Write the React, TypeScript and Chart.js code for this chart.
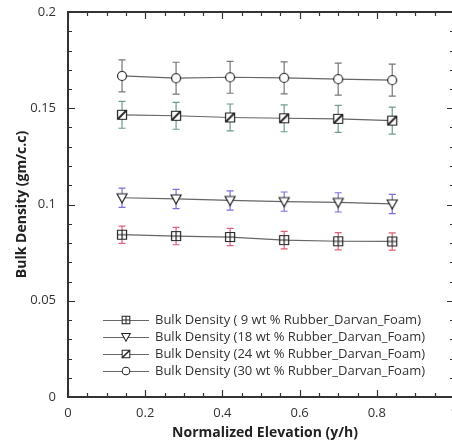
import React, { useEffect, useRef } from "react";
import { Chart, registerables } from "chart.js";

Chart.register(...registerables);

// Normalized elevation positions of the samples
const elevations = [0.14, 0.28, 0.42, 0.56, 0.7, 0.84];

// Bulk density (gm/c.c) per foam composition
const density9 = [0.0843, 0.0836, 0.0831, 0.0815, 0.0809, 0.0808];
const density18 = [0.1035, 0.1029, 0.1021, 0.1015, 0.1011, 0.1003];
const density24 = [0.1466, 0.1461, 0.1452, 0.1448, 0.1445, 0.1436];
const density30 = [0.1668, 0.1656, 0.1661, 0.1658, 0.1651, 0.1646];

// Symmetric error (± gm/c.c) for each composition
const error9 = [0.0045, 0.0045, 0.0045, 0.0045, 0.0045, 0.0045];
const error18 = [0.005, 0.005, 0.005, 0.005, 0.005, 0.005];
const error24 = [0.007, 0.007, 0.007, 0.007, 0.007, 0.007];
const error30 = [0.0083, 0.0083, 0.0083, 0.0083, 0.0083, 0.0083];

const seriesLabels = [
  "Bulk Density ( 9 wt % Rubber_Darvan_Foam)",
  "Bulk Density (18 wt % Rubber_Darvan_Foam)",
  "Bulk Density (24 wt % Rubber_Darvan_Foam)",
  "Bulk Density (30 wt % Rubber_Darvan_Foam)",
];

const xTicks = [0, 0.2, 0.4, 0.6, 0.8, 1];
const yTicks = [0, 0.05, 0.1, 0.15, 0.2];

const FONT = "'Open Sans', 'DejaVu Sans', sans-serif";
const INK = "#333";

type MarkerKind = "plusSquare" | "downTriangle" | "slashSquare" | "circle";

function makeMarker(kind: MarkerKind, scale = 1): HTMLCanvasElement {
  const size = 14;
  const c = document.createElement("canvas");
  c.width = size;
  c.height = size;
  const g = c.getContext("2d")!;
  const m = size / 2;
  g.translate(m, m);
  g.scale(scale, scale);
  g.strokeStyle = "#222";
  g.fillStyle = "#fff";
  g.lineWidth = 1.2;
  if (kind === "plusSquare" || kind === "slashSquare") {
    const h = 4.5;
    g.beginPath();
    g.rect(-h, -h, 2 * h, 2 * h);
    g.fill();
    g.stroke();
    g.beginPath();
    if (kind === "plusSquare") {
      g.moveTo(0, -h);
      g.lineTo(0, h);
      g.moveTo(-h, 0);
      g.lineTo(h, 0);
    } else {
      g.lineWidth = 1.8;
      g.moveTo(-h, h);
      g.lineTo(h, -h);
    }
    g.stroke();
  } else if (kind === "downTriangle") {
    g.beginPath();
    g.moveTo(-5, -4);
    g.lineTo(5, -4);
    g.lineTo(0, 5);
    g.closePath();
    g.fill();
    g.stroke();
  } else {
    g.beginPath();
    g.arc(0, 0, 4.5, 0, Math.PI * 2);
    g.fill();
    g.stroke();
  }
  return c;
}

export default function App() {
  const canvasRef = useRef<HTMLCanvasElement | null>(null);

  useEffect(() => {
    document.body.style.margin = "0";
    const canvas = canvasRef.current;
    if (!canvas) return;

    const kinds: MarkerKind[] = ["plusSquare", "downTriangle", "slashSquare", "circle"];
    const markers = kinds.map((k) => makeMarker(k));
    const legendMarkers = kinds.map((k) => makeMarker(k, 0.85));
    const values = [density9, density18, density24, density30];
    const errors = [error9, error18, error24, error30];
    const errorColors = ["#e0607a", "#7a72d6", "#6f9a8c", "#777"];

    const datasets = values.map((vals, i) => ({
      label: seriesLabels[i],
      data: elevations.map((x, j) => ({ x, y: vals[j] })),
      showLine: true,
      borderColor: "#666",
      borderWidth: 1.2,
      pointStyle: markers[i] as any,
      pointRadius: 5,
      backgroundColor: "#fff",
    }));

    const errorBars = {
      id: "errorBars",
      beforeDatasetsDraw(chart: any) {
        const { ctx, scales } = chart;
        const xs = scales.x;
        const ys = scales.y;
        ctx.save();
        ctx.lineWidth = 1.2;
        values.forEach((vals, i) => {
          ctx.strokeStyle = errorColors[i];
          vals.forEach((v, j) => {
            const px = xs.getPixelForValue(elevations[j]);
            const top = ys.getPixelForValue(v + errors[i][j]);
            const bot = ys.getPixelForValue(v - errors[i][j]);
            ctx.beginPath();
            ctx.moveTo(px, top);
            ctx.lineTo(px, bot);
            ctx.moveTo(px - 3.5, top);
            ctx.lineTo(px + 3.5, top);
            ctx.moveTo(px - 3.5, bot);
            ctx.lineTo(px + 3.5, bot);
            ctx.stroke();
          });
        });
        ctx.restore();
      },
    };

    const frame = {
      id: "frame",
      afterDraw(chart: any) {
        const { ctx, chartArea: a, scales } = chart;
        const xs = scales.x;
        const ys = scales.y;
        ctx.save();
        ctx.strokeStyle = INK;
        ctx.lineWidth = 1.2;
        // inward ticks, minor every 0.05 on x and 0.01 on y
        ctx.beginPath();
        for (let k = 0; k <= 20; k++) {
          const v = k * 0.05;
          const px = Math.round(xs.getPixelForValue(v)) + 0.5;
          const len = k % 4 === 0 ? 7 : 4;
          ctx.moveTo(px, a.bottom);
          ctx.lineTo(px, a.bottom - len);
          ctx.moveTo(px, a.top);
          ctx.lineTo(px, a.top + len);
        }
        for (let k = 0; k <= 20; k++) {
          const v = k * 0.01;
          const py = Math.round(ys.getPixelForValue(v)) + 0.5;
          const len = k % 5 === 0 ? 7 : 4;
          ctx.moveTo(a.left, py);
          ctx.lineTo(a.left + len, py);
          ctx.moveTo(a.right, py);
          ctx.lineTo(a.right - len, py);
        }
        ctx.stroke();
        ctx.lineWidth = 2;
        ctx.strokeRect(a.left, a.top, a.right - a.left, a.bottom - a.top);

        // tick labels
        ctx.fillStyle = INK;
        ctx.font = `13px ${FONT}`;
        ctx.textAlign = "center";
        ctx.textBaseline = "middle";
        xTicks.forEach((v) => {
          ctx.fillText(String(v), xs.getPixelForValue(v), a.bottom + 16);
        });
        ctx.textAlign = "right";
        yTicks.forEach((v) => {
          ctx.fillText(String(v), a.left - 12, ys.getPixelForValue(v));
        });

        // axis titles
        ctx.fillStyle = "#222";
        ctx.textAlign = "center";
        ctx.font = `bold 14px ${FONT}`;
        ctx.fillText("Normalized Elevation (y/h)", 265, 433);
        ctx.translate(22, (a.top + a.bottom) / 2);
        ctx.rotate(-Math.PI / 2);
        ctx.fillText("Bulk Density (gm/c.c)", 0, 0);
        ctx.restore();

        // legend
        ctx.save();
        ctx.font = `13px ${FONT}`;
        ctx.textAlign = "left";
        ctx.textBaseline = "middle";
        seriesLabels.forEach((label, i) => {
          const y = 320 + i * 17;
          ctx.strokeStyle = "#666";
          ctx.lineWidth = 1.2;
          ctx.beginPath();
          ctx.moveTo(103, y + 0.5);
          ctx.lineTo(149, y + 0.5);
          ctx.stroke();
          const mk = legendMarkers[i];
          ctx.drawImage(mk, 126 - mk.width / 2, y - mk.height / 2);
          ctx.fillStyle = INK;
          ctx.fillText(label, 155, y);
        });
        ctx.restore();
      },
    };

    const chart = new Chart(canvas, {
      type: "scatter",
      data: { datasets },
      options: {
        animation: false,
        responsive: false,
        layout: { padding: { top: 12, right: 16, left: 0, bottom: 0 } },
        plugins: { legend: { display: false }, tooltip: { enabled: false } },
        scales: {
          x: {
            type: "linear",
            min: 0,
            max: 1,
            afterFit: (s: any) => {
              s.height = 47;
            },
            grid: { display: false, drawTicks: false },
            border: { display: false },
            ticks: { display: false },
          },
          y: {
            type: "linear",
            min: 0,
            max: 0.2,
            afterFit: (s: any) => {
              s.width = 68;
            },
            grid: { display: false, drawTicks: false },
            border: { display: false },
            ticks: { display: false },
          },
        },
      },
      plugins: [errorBars, frame],
    });

    return () => chart.destroy();
  }, []);

  return (
    <div style={{ width: 452, height: 444, overflow: "hidden", background: "#fff" }}>
      <canvas ref={canvasRef} width={470} height={444} style={{ display: "block" }} />
    </div>
  );
}
